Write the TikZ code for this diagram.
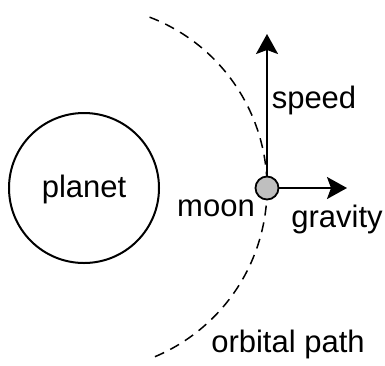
\documentclass[tikz,border=0pt]{standalone}
\usepackage{fontspec}
\setmainfont{Liberation Sans}
\usetikzlibrary{arrows.meta}
\definecolor{moongray}{HTML}{BFBFBF}
\tikzset{
  lbl/.style={font=\fontsize{31}{37}\selectfont, inner sep=0pt, anchor=base},
  vec/.style={line width=2pt, -{Stealth[length=20pt,width=22pt,inset=4pt]}},
  orbit/.style={line width=1.5pt, dash pattern=on 10pt off 7pt},
}
\begin{document}
\begin{tikzpicture}[x=1pt,y=-1pt]
\useasboundingbox (0,0) rectangle (385,365);
\node[circle, draw, line width=2pt, minimum size=150pt, inner sep=0pt] (planet) at (84,188) {};
\node[lbl] (planetlbl) at (84,197) {planet};
\draw[orbit] (planet.center) ++(-69:183) arc[start angle=-69, end angle=69, radius=183];
\node[circle, draw, line width=1.8pt, fill=moongray, minimum size=23pt, inner sep=0pt] (moon) at (267,188) {};
\coordinate (speedtip) at (267,34);
\coordinate (gravtip) at (347,188);
\draw[vec] (moon.north) -- (speedtip);
\draw[vec] (moon.east) -- (gravtip);
\node[lbl] (speed) at (314,108) {speed};
\node[lbl] (moonlbl) at (216,216) {moon};
\node[lbl] (gravity) at (337,227) {gravity};
\node[lbl] (orbital) at (288,352) {orbital path};
\end{tikzpicture}
\end{document}
